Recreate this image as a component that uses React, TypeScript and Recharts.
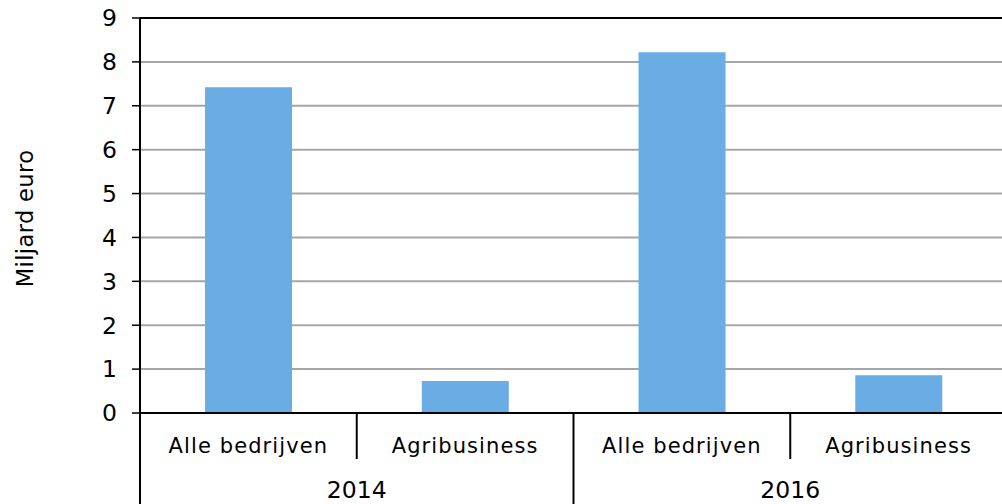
import React from 'react';
import { BarChart, Bar, XAxis, YAxis, CartesianGrid, ReferenceLine } from 'recharts';

// waarden (miljard euro)
const categories = ['Alle bedrijven', 'Agribusiness', 'Alle bedrijven', 'Agribusiness'];
const years = ['2014', '2014', '2016', '2016'];
const values = [7.42, 0.73, 8.22, 0.86];
const yTicks = [0, 1, 2, 3, 4, 5, 6, 7, 8, 9];

const data = categories.map((c, i) => ({ key: `${years[i]}-${c}`, name: c, year: years[i], value: values[i] }));

const CHART_W = 1007;
const CHART_H = 504;
const Y_W = 140;
const BAND = (CHART_W - Y_W) / categories.length;
const FONT = '"DejaVu Sans", Verdana, sans-serif';

const CategoryTick = (props: any) => {
  const { x, y, index } = props;
  const half = BAND / 2;
  const lastOfYear = index === categories.length - 1 || years[index + 1] !== years[index];
  const firstOfYear = index === 0 || years[index - 1] !== years[index];
  return (
    <g>
      <text x={x} y={y + 40} textAnchor="middle" fontSize={21} letterSpacing={1.1} fontFamily={FONT} fill="#000">
        {categories[index]}
      </text>
      {index === 0 && <line x1={x - half} x2={x - half} y1={y} y2={CHART_H} stroke="#000" strokeWidth={2} />}
      {!lastOfYear && <line x1={x + half} x2={x + half} y1={y} y2={y + 46} stroke="#000" strokeWidth={2} />}
      {lastOfYear && <line x1={x + half} x2={x + half} y1={y} y2={CHART_H} stroke="#000" strokeWidth={2} />}
      {!firstOfYear && (
        <text x={x - half} y={y + 85} textAnchor="middle" fontSize={23.5} fontFamily={FONT} fill="#000">
          {years[index]}
        </text>
      )}
    </g>
  );
};

const YLabel = (props: any) => {
  const { viewBox } = props;
  const cx = 33;
  const cy = viewBox.y + viewBox.height / 2 + 3;
  return (
    <text x={cx} y={cy} transform={`rotate(-90, ${cx}, ${cy})`} textAnchor="middle" fontSize={22.5} letterSpacing={0.4} fontFamily={FONT} fill="#000">
      Miljard euro
    </text>
  );
};

export default function App() {
  return (
    <div style={{ position: 'absolute', left: 0, top: 0, width: 1002, height: 504, overflow: 'hidden', background: '#fff' }}>
      <BarChart width={CHART_W} height={CHART_H} data={data} margin={{ top: 18, right: 0, bottom: 0, left: 0 }} barCategoryGap="30%">
        <CartesianGrid vertical={false} stroke="#a6a6a6" strokeWidth={2} />
        <XAxis
          dataKey="key"
          height={91}
          interval={0}
          tick={<CategoryTick />}
          tickLine={false}
          tickSize={0}
          tickMargin={0}
          axisLine={{ stroke: '#000', strokeWidth: 2 }}
        />
        <YAxis
          width={Y_W}
          domain={[0, 9]}
          ticks={yTicks}
          interval={0}
          tickSize={8}
          tickMargin={15}
          tick={{ fontSize: 23.5, fill: '#000', fontFamily: FONT }}
          tickLine={{ stroke: '#000', strokeWidth: 1.5 }}
          axisLine={{ stroke: '#000', strokeWidth: 2 }}
          label={<YLabel />}
        />
        <ReferenceLine y={9} stroke="#000" strokeWidth={2} />
        <Bar dataKey="value" fill="#6aade4" isAnimationActive={false} />
      </BarChart>
    </div>
  );
}
